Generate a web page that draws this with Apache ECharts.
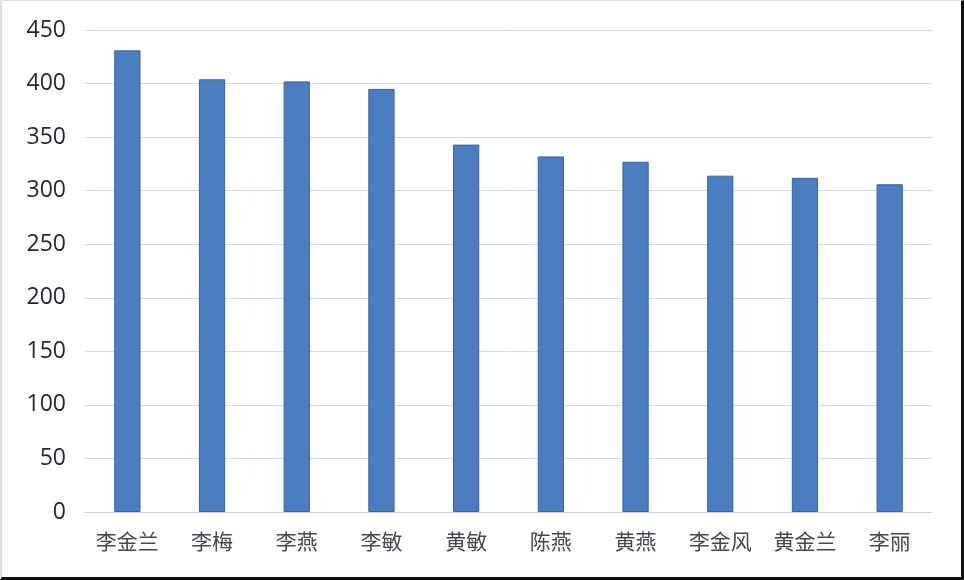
<!DOCTYPE html>
<html>
<head>
<meta charset="utf-8">
<script src="https://cdn.jsdelivr.net/npm/echarts@6/dist/echarts.min.js"></script>
<style>
html,body{margin:0;padding:0;background:#fff;}
#frame{position:absolute;left:0;top:0;width:964px;height:580px;box-sizing:border-box;border-top:1px solid #d8dde2;border-left:2px solid #d8dde2;border-right:3px solid #111;border-bottom:3px solid #111;}
#chart{position:absolute;left:0;top:0;width:964px;height:580px;}
</style>
</head>
<body>
<div id="chart"></div>
<div id="frame"></div>
<script>
const categories = ['李金兰','李梅','李燕','李敏','黄敏','陈燕','黄燕','李金风','黄金兰','李丽'];
const values = [431, 404, 402, 395, 343, 332, 327, 314, 312, 306];
const yTicks = [0, 50, 100, 150, 200, 250, 300, 350, 400, 450];

const chart = echarts.init(document.getElementById('chart'), null, {renderer:'canvas'});
chart.setOption({
  animation: false,
  backgroundColor: '#fff',
  grid: {left: 85, right: 32, top: 30, bottom: 68, containLabel: false},
  xAxis: {
    type: 'category',
    data: categories,
    axisLine: {show: true, lineStyle: {color: '#d0d4d8', width: 1}},
    axisTick: {show: false},
    axisLabel: {color: '#4a4550', fontSize: 21, margin: 19, fontFamily: 'Noto Sans CJK SC', interval: 0}
  },
  yAxis: {
    type: 'value',
    min: yTicks[0],
    max: yTicks[yTicks.length - 1],
    interval: 50,
    axisLine: {show: false},
    axisTick: {show: false},
    splitLine: {lineStyle: {color: '#d6dade', width: 1}},
    axisLabel: {color: '#2b2436', fontSize: 23, margin: 19, fontFamily: 'Open Sans'}
  },
  series: [{
    type: 'bar',
    data: values,
    barWidth: '31%',
    itemStyle: {color: '#4a7ec0', borderColor: '#3a6599', borderWidth: 1}
  }]
});
</script>
</body>
</html>
